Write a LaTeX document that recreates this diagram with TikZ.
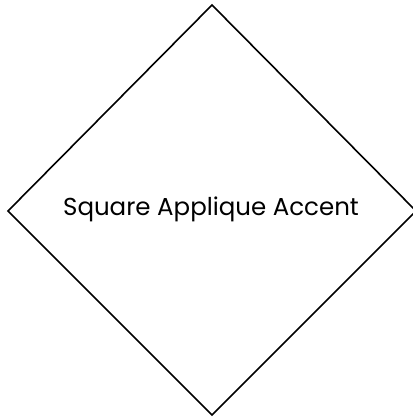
\documentclass[tikz,border=0pt]{standalone}
\usepackage{fontspec}
\setmainfont{Poppins}
\usetikzlibrary{shapes.geometric}
\begin{document}
\begin{tikzpicture}[x=1pt,y=1pt,
  edge/.style={draw=black,line width=1.6pt,line join=miter},
  label/.style={font=\fontsize{24.5}{29}\selectfont,text=black}]
\useasboundingbox (0,0) rectangle (412,417);
\coordinate (t) at (212,412);
\coordinate (l) at (8,206);
\coordinate (r) at (416,206);
\coordinate (b) at (212,2);
\draw[edge] (t) -- (r) -- (b) -- (l) -- cycle;
\node[label] (txt) at (211,208) {Square Applique Accent};
\end{tikzpicture}
\end{document}
